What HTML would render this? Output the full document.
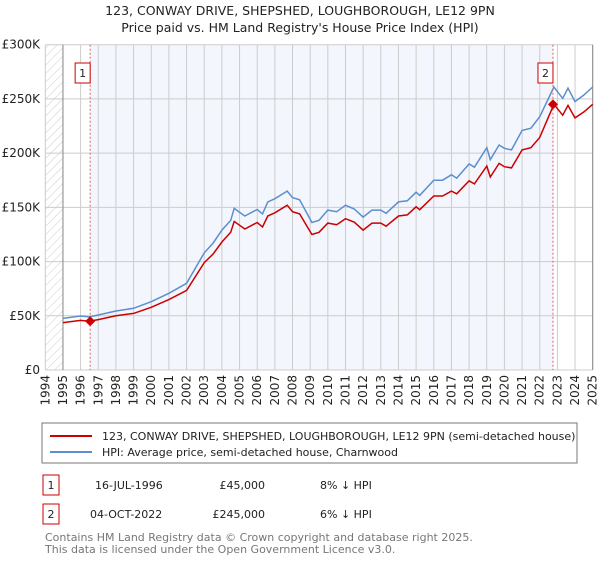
<!DOCTYPE html>
<html><head><meta charset="utf-8"><style>
body{margin:0;background:#fff;width:600px;height:560px;overflow:hidden;font-family:"DejaVu Sans","Liberation Sans",sans-serif;}
svg text{font-family:"DejaVu Sans","Liberation Sans",sans-serif;}
</style></head><body>
<svg id="chart" width="600" height="560" xmlns="http://www.w3.org/2000/svg">
<defs><pattern id="hatch" width="6" height="6" patternUnits="userSpaceOnUse" patternTransform="rotate(45)"><line x1="0" y1="0" x2="0" y2="6" stroke="#ccc" stroke-width="1"/></pattern></defs>
<text x="300" y="15" text-anchor="middle" font-size="12.5" fill="#222">123, CONWAY DRIVE, SHEPSHED, LOUGHBOROUGH, LE12 9PN</text>
<text x="300" y="32" text-anchor="middle" font-size="12.5" fill="#222">Price paid vs. HM Land Registry's House Price Index (HPI)</text>
<g id="plot"></g>
<rect x="42" y="423" width="535" height="40" fill="#fff" stroke="#777"/>
<line x1="50" y1="436" x2="92" y2="436" stroke="#cc0000" stroke-width="2"/>
<text x="102" y="440" font-size="11" fill="#222">123, CONWAY DRIVE, SHEPSHED, LOUGHBOROUGH, LE12 9PN (semi-detached house)</text>
<line x1="50" y1="452" x2="92" y2="452" stroke="#5b8fd0" stroke-width="2"/>
<text x="102" y="456" font-size="11" fill="#222">HPI: Average price, semi-detached house, Charnwood</text>
<g>
<rect x="43" y="475" width="16" height="20" fill="#fff" stroke="#cc0000"/>
<text x="51" y="489" text-anchor="middle" font-size="11" fill="#222">1</text>
<text x="95" y="489" font-size="11" fill="#222">16-JUL-1996</text>
<text x="265" y="489" text-anchor="end" font-size="11" fill="#222">£45,000</text>
<text x="320" y="489" font-size="11" fill="#222">8% ↓ HPI</text></g>
<g>
<rect x="43" y="504" width="16" height="20" fill="#fff" stroke="#cc0000"/>
<text x="51" y="518" text-anchor="middle" font-size="11" fill="#222">2</text>
<text x="90" y="518" font-size="11" fill="#222">04-OCT-2022</text>
<text x="265" y="518" text-anchor="end" font-size="11" fill="#222">£245,000</text>
<text x="320" y="518" font-size="11" fill="#222">6% ↓ HPI</text></g>
<text x="45" y="541" font-size="11" fill="#777">Contains HM Land Registry data © Crown copyright and database right 2025.</text>
<text x="45" y="553" font-size="11" fill="#777">This data is licensed under the Open Government Licence v3.0.</text>
</svg>
<script>
const hpiYears=[1995,1996,1996.5,1997,1998,1999,2000,2001,2002,2003,2003.5,2004,2004.5,2004.7,2005.3,2006,2006.3,2006.6,2007,2007.7,2008,2008.4,2009.1,2009.5,2010,2010.5,2011,2011.5,2012,2012.5,2013,2013.3,2014,2014.5,2015,2015.2,2016,2016.5,2017,2017.3,2018,2018.3,2019,2019.2,2019.7,2020,2020.4,2021,2021.5,2022,2022.8,2023.3,2023.6,2024,2024.5,2025];
const hpiValues=[47.6,49.8,49,50.7,54.4,56.9,63,70.7,80,108,117,129,138,149,142,148,144,155,158,165,159,157,136,138,147.5,146,152,148.5,141,147.5,147.5,144.5,155,156,164,161,175,175,180,177,190,187,205,194,207.5,204.5,203,221,223,233.6,261,250.5,260,247.5,253.6,261];
const priceValues=[43.7,45.7,45,46.5,50,52.2,57.8,64.9,73.4,99,107,118,127,137,130,136,132,142,145,152,146,144,125,127,135.5,134,139.5,136.3,129,135.5,135.5,132.6,142,143,150.5,147.8,160.5,160.5,165,162.5,174.5,171.6,188,178,190.5,187.5,186.4,203,205,214.4,245,235,244,232.5,238,245];
const yTicks=[0,50,100,150,200,250,300];
const yTickLabels=["£0","£50K","£100K","£150K","£200K","£250K","£300K"];
const xTicks=[1994,1995,1996,1997,1998,1999,2000,2001,2002,2003,2004,2005,2006,2007,2008,2009,2010,2011,2012,2013,2014,2015,2016,2017,2018,2019,2020,2021,2022,2023,2024,2025];
const sales=[{n:"1",t:1996.54,v:45},{n:"2",t:2022.75,v:245}];
const X0=45.3,X1=592.7,Y0=370,Y1=44.7;
const x=t=>X0+(t-1994)/(2025-1994)*(X1-X0);
const y=v=>Y0-v/300*(Y0-Y1);
const NS="http://www.w3.org/2000/svg";
const g=document.getElementById('plot');
function mk(tag,attrs,parent){const e=document.createElementNS(NS,tag);for(const k in attrs)e.setAttribute(k,attrs[k]);(parent||g).appendChild(e);return e;}
let e;
e=mk('rect',{x:X0,y:Y1,width:x(1995)-X0,height:Y0-Y1,fill:'url(#hatch)'});


e=mk('rect',{x:x(sales[0].t),y:Y1,width:x(sales[1].t)-x(sales[0].t),height:Y0-Y1,fill:'#f3f6fd'});


yTicks.forEach((v,i)=>{
 e=mk('line',{x1:X0,x2:X1,y1:y(v),y2:y(v),stroke:'#ccc','stroke-width':1});
 
 
 e=mk('text',{x:40,y:y(v)+4,'text-anchor':'end','font-size':12,fill:'#222'});
 e.textContent=yTickLabels[i];
 
 
});
xTicks.forEach(t=>{
 e=mk('line',{x1:x(t),x2:x(t),y1:Y1,y2:Y0,stroke:'#ccc','stroke-width':1});
 
 
 e=mk('text',{x:0,y:0,'text-anchor':'end','font-size':12,fill:'#222',transform:`translate(${x(t)+4},375) rotate(-90)`});
 e.textContent=t;
 
 
});
e=mk('line',{x1:x(1995),x2:x(1995),y1:Y1,y2:Y0,stroke:'#888'});


e=mk('line',{x1:X1,x2:X1,y1:Y1,y2:Y0,stroke:'#888'});


function pts(ys){return hpiYears.map((t,i)=>x(t).toFixed(1)+','+y(ys[i]).toFixed(1)).join(' ');}
e=mk('polyline',{points:pts(hpiValues),fill:'none',stroke:'#5b8fd0','stroke-width':1.5});


e=mk('polyline',{points:pts(priceValues),fill:'none',stroke:'#cc0000','stroke-width':1.5});


sales.forEach(s=>{
 e=mk('line',{x1:x(s.t),x2:x(s.t),y1:Y1,y2:Y0,stroke:'#e06060','stroke-dasharray':'2,2'});
 
 
 const cx=x(s.t),cy=y(s.v);
 e=mk('polygon',{points:`${cx},${cy-5} ${cx+5},${cy} ${cx},${cy+5} ${cx-5},${cy}`,fill:'#cc0000'});
 
 
 e=mk('rect',{x:cx-15,y:63,width:15,height:20,fill:'#fff',stroke:'#cc0000'});
 
 
 e=mk('text',{x:cx-7.5,y:77,'text-anchor':'middle','font-size':11,fill:'#222'});
 e.textContent=s.n;
 
 
});
</script>
</body></html>
